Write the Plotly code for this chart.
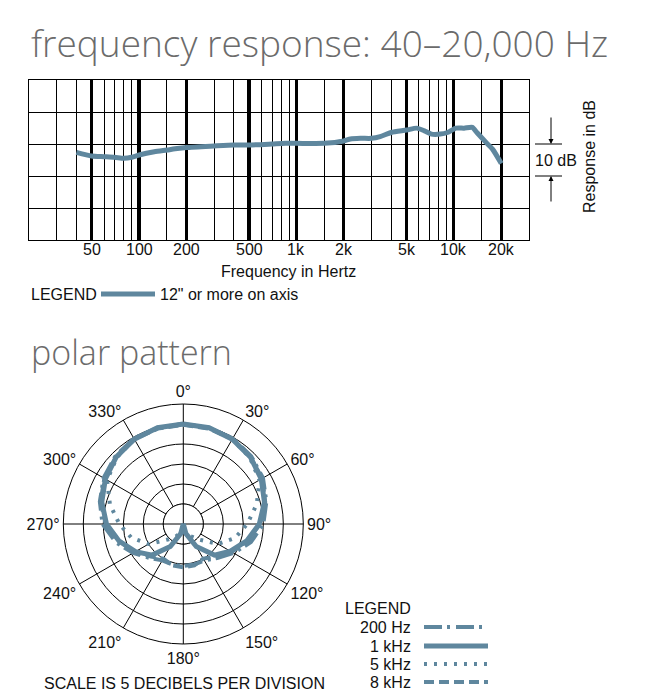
import math
import numpy as np
import plotly.graph_objects as go

W, H = 661, 698
COLOR = "#5f879e"

# ---------------- frequency response data ----------------
freq_hz = [40, 50, 60, 70, 80, 90, 100, 125, 150, 175, 200, 300, 400, 500, 700, 850,
           1000, 1500, 2000, 2200, 2550, 3000, 3400, 4000, 5000, 5800, 6500, 7200,
           8200, 9100, 10300, 11600, 13100, 14000, 16000, 17600, 20000]
response_db = [-2.6, -3.75, -3.96, -4.16, -4.48, -4.16, -3.44, -2.4, -1.88, -1.4, -1.1,
               -0.62, -0.31, -0.31, 0.0, 0.2, 0.21, 0.21, 0.96, 1.56, 1.77, 1.77, 2.3,
               3.6, 4.35, 4.96, 4.1, 3.1, 3.1, 3.6, 4.96, 4.96, 5.2, 3.6, 0.5, -1.6, -6.1]

major_ticks = [50, 100, 200, 500, 1000, 2000, 5000, 10000, 20000]
major_labels = ["50", "100", "200", "500", "1k", "2k", "5k", "10k", "20k"]
minor_ticks = [30, 40, 60, 70, 80, 90, 150, 300, 400, 600, 700, 800, 900, 1500,
               3000, 4000, 6000, 7000, 8000, 9000, 15000]
db_grid = [-30, -20, -10, 0, 10, 20]

# ---------------- polar pattern data ----------------
theta_deg = [0, 15, 30, 45, 60, 75, 90, 105, 120, 135, 150, 165, 180,
             195, 210, 225, 240, 255, 270, 285, 300, 315, 330, 345, 360]
r_200hz = [-5, -5.1, -5.3, -6, -7, -8.5, -10, -12.5, -15.5, -18, -19.5, -19.5, -19.5,
           -19.5, -19.5, -18, -15.5, -12.5, -9.8, -8.4, -7, -6, -5.3, -5.1, -5]
r_1khz = [-5, -5.1, -5.5, -6.3, -7.5, -9, -11, -13.6, -16.4, -19, -23.5, -27.5, -30,
          -27.5, -23.5, -19, -16.2, -13.4, -10.8, -8.9, -7.5, -6.3, -5.5, -5.1, -5]
r_5khz = [-5, -5.1, -5.5, -6.5, -8, -11, -14, -16.6, -20, -24.5, -26.5, -28, -28.5,
          -28, -26.5, -24.5, -20, -16.6, -14, -11, -8, -6.5, -5.5, -5.1, -5]
r_8khz = [-5.2, -5.3, -5.5, -6.3, -7.2, -8.8, -10.8, -13.5, -16, -18.5, -20, -19.3, -19.2,
          -19.3, -20, -18.5, -16, -13.5, -10.6, -8.6, -7.2, -6.3, -5.5, -5.3, -5.2]

angle_ticks = [0, 30, 60, 90, 120, 150, 180, 210, 240, 270, 300, 330]
angle_labels = [f"{a}°" for a in angle_ticks]
ring_db = [-25, -20, -15, -10, -5]

legend_names = ["200 Hz", "1 kHz", "5 kHz", "8 kHz"]
legend_dash = ["18px,5px,3px,6px", "solid", "3px,7px", "10px,5px"]


def px(x):
    return x / W


def py(y):
    return 1 - y / H


FONT = "Liberation Sans, Arial, sans-serif"
TITLE_FONT = "Open Sans, Liberation Sans, sans-serif"
FS = 16

fig = go.Figure()

fig.add_trace(go.Scatter(x=freq_hz, y=response_db, mode="lines",
                         line=dict(color=COLOR, width=5, shape="spline", smoothing=0.6),
                         showlegend=False, hoverinfo="skip", xaxis="x", yaxis="y"))

# polar: inner disk (hides spokes inside the innermost ring)
disk_theta = np.linspace(0, 360, 73)
fig.add_trace(go.Scatterpolar(r=[-25] * len(disk_theta), theta=disk_theta, mode="lines",
                              fill="toself", fillcolor="white",
                              line=dict(color="black", width=1),
                              showlegend=False, hoverinfo="skip"))
for a in (0, 90):
    fig.add_trace(go.Scatterpolar(r=[-25, -30, -25], theta=[a, a, a + 180], mode="lines",
                                  line=dict(color="black", width=1),
                                  showlegend=False, hoverinfo="skip"))

for name, rr, dash, wdt in [("200 Hz", r_200hz, legend_dash[0], 4),
                            ("8 kHz", r_8khz, legend_dash[3], 4),
                            ("5 kHz", r_5khz, legend_dash[2], 4),
                            ("1 kHz", r_1khz, legend_dash[1], 5)]:
    fig.add_trace(go.Scatterpolar(r=rr, theta=theta_deg, mode="lines", name=name,
                                  line=dict(color=COLOR, width=wdt, dash=dash),
                                  showlegend=False, hoverinfo="skip"))

annotations = []
shapes = []

# titles
annotations.append(dict(text="frequency response: 40–20,000 Hz", x=px(29), y=py(43),
                        xref="paper", yref="paper", xanchor="left", yanchor="middle",
                        showarrow=False, font=dict(family=TITLE_FONT, size=37, color="#6b6b6b", weight=300)))
annotations.append(dict(text="polar pattern", x=px(29), y=py(352),
                        xref="paper", yref="paper", xanchor="left", yanchor="middle",
                        showarrow=False, font=dict(family=TITLE_FONT, size=34, color="#6b6b6b", weight=300)))

# frequency tick labels (placed on the log axis)
for tv, tl in zip(major_ticks, major_labels):
    annotations.append(dict(text=tl, x=math.log10(tv), y=py(249), xref="x", yref="paper",
                            xanchor="center", yanchor="middle", showarrow=False,
                            font=dict(family=FONT, size=FS, color="#111")))

# frequency axis title
annotations.append(dict(text="Frequency in Hertz", x=px(288), y=py(271), xref="paper", yref="paper",
                        xanchor="center", yanchor="middle", showarrow=False,
                        font=dict(family=FONT, size=FS, color="#111")))
# frequency legend
annotations.append(dict(text="LEGEND", x=px(29), y=py(294), xref="paper", yref="paper",
                        xanchor="left", yanchor="middle", showarrow=False,
                        font=dict(family=FONT, size=FS, color="#111")))
shapes.append(dict(type="line", xref="paper", yref="paper", x0=px(101), x1=px(155),
                   y0=py(294), y1=py(294), line=dict(color=COLOR, width=5)))
annotations.append(dict(text="12\" or more on axis", x=px(158), y=py(294), xref="paper", yref="paper",
                        xanchor="left", yanchor="middle", showarrow=False,
                        font=dict(family=FONT, size=FS, color="#111")))

# 10 dB marker
annotations.append(dict(text="10 dB", x=px(556), y=-5, xref="paper", yref="y",
                        xanchor="center", yanchor="middle", showarrow=False,
                        font=dict(family=FONT, size=FS, color="#111")))
for yv in (0, -10):
    shapes.append(dict(type="line", xref="paper", yref="y", x0=px(535), x1=px(562),
                       y0=yv, y1=yv, line=dict(color="black", width=1)))
annotations.append(dict(text="", x=px(551), y=0, xref="paper", yref="y", ax=0, ay=-28,
                        showarrow=True, arrowhead=2, arrowsize=1, arrowwidth=1, arrowcolor="black"))
annotations.append(dict(text="", x=px(551), y=-10, xref="paper", yref="y", ax=0, ay=27,
                        showarrow=True, arrowhead=2, arrowsize=1, arrowwidth=1, arrowcolor="black"))
annotations.append(dict(text="Response in dB", x=px(589), y=py(157), xref="paper", yref="paper",
                        xanchor="center", yanchor="middle", showarrow=False, textangle=-90,
                        font=dict(family=FONT, size=FS, color="#111")))

# polar footer and legend
annotations.append(dict(text="SCALE IS 5 DECIBELS PER DIVISION", x=px(184), y=py(683),
                        xref="paper", yref="paper", xanchor="center", yanchor="middle",
                        showarrow=False, font=dict(family=FONT, size=FS, color="#111")))
annotations.append(dict(text="LEGEND", x=px(413), y=py(608), xref="paper", yref="paper",
                        xanchor="right", yanchor="middle", showarrow=False,
                        font=dict(family=FONT, size=FS, color="#111")))
leg_y = [627, 646, 664, 682]
for name, dash, yy in zip(legend_names, legend_dash, leg_y):
    annotations.append(dict(text=name, x=px(413), y=py(yy), xref="paper", yref="paper",
                            xanchor="right", yanchor="middle", showarrow=False,
                            font=dict(family=FONT, size=FS, color="#111")))
    shapes.append(dict(type="line", xref="paper", yref="paper", x0=px(424), x1=px(488),
                       y0=py(yy), y1=py(yy),
                       line=dict(color=COLOR, width=5 if name == "1 kHz" else 4, dash=dash)))

fig.update_layout(
    width=W, height=H,
    margin=dict(l=0, r=0, t=0, b=0),
    paper_bgcolor="white", plot_bgcolor="white",
    showlegend=False,
    hovermode=False,
    font=dict(family=FONT, size=FS, color="#111"),
    xaxis=dict(type="log", domain=[px(29), px(529)],
               range=[np.log10(20), np.log10(30000)],
               tickvals=major_ticks, showticklabels=False,
               showgrid=True, gridcolor="black", gridwidth=3.2,
               minor=dict(tickvals=minor_ticks, showgrid=True, gridcolor="black", gridwidth=1, ticks=""),
               ticks="", showline=True, linecolor="black", linewidth=1, mirror=True,
               zeroline=False, anchor="y", fixedrange=True),
    yaxis=dict(domain=[py(240), py(80)], range=[-30, 20], tickvals=db_grid,
               showticklabels=False, showgrid=True, gridcolor="black", gridwidth=1,
               ticks="", showline=True, linecolor="black", linewidth=1, mirror=True,
               zeroline=False, anchor="x", fixedrange=True),
    polar=dict(
        domain=dict(x=[px(183.3 - 120), px(183.3 + 120)], y=[py(524 + 120), py(524 - 120)]),
        bgcolor="white",
        angularaxis=dict(rotation=90, direction="clockwise", tickvals=angle_ticks,
                         ticktext=angle_labels, showgrid=True, gridcolor="black", gridwidth=1,
                         showline=True, linecolor="black", linewidth=1, ticks="",
                         tickfont=dict(family=FONT, size=FS, color="#111")),
        radialaxis=dict(range=[-30, 0], tickvals=ring_db, showticklabels=False,
                        showgrid=True, gridcolor="black", gridwidth=1, showline=False,
                        ticks=""),
    ),
    annotations=annotations,
    shapes=shapes,
)

fig.write_html("out.html", config={"displayModeBar": False, "staticPlot": True},
               post_script="document.body.style.margin='0';")
